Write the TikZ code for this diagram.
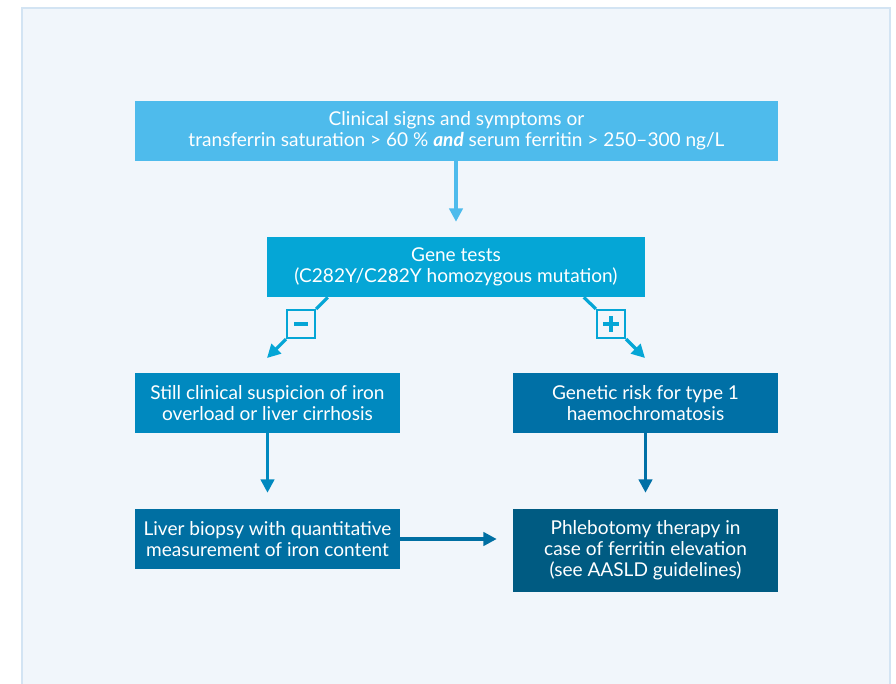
\documentclass[tikz,border=0pt]{standalone}
\usepackage{fontspec}
\setmainfont{Lato}
\usetikzlibrary{arrows.meta,calc}
\definecolor{panelbg}{HTML}{F1F6FB}
\definecolor{panelbd}{HTML}{D3E4F3}
\definecolor{cA}{HTML}{4EBBEC}
\definecolor{cB}{HTML}{05A6D6}
\definecolor{cC}{HTML}{0089BF}
\definecolor{cD}{HTML}{0070A6}
\definecolor{cE}{HTML}{006FA2}
\definecolor{cF}{HTML}{005B82}
\tikzset{
  box/.style={rectangle, inner sep=0pt, text=white, align=center,
    font=\fontsize{14.3}{15.9}\selectfont},
  arr/.style={line width=2.4pt, -{Triangle[length=10pt,width=10pt]}},
  signbox/.style={rectangle, draw=cB, line width=1.6pt, fill=panelbg,
    minimum width=21pt, minimum height=21pt, inner sep=0pt},
}
\begin{document}
\begin{tikzpicture}[x=0.75pt,y=-0.75pt]
\useasboundingbox (0,0) rectangle (896,683);
\fill[white] (0,0) rectangle (896,683);
\filldraw[fill=panelbg, draw=panelbd, line width=1.5pt] (21.5,7.5) rectangle (890,700);

\node[box, fill=cA, minimum width=482.25pt, minimum height=45pt] (top) at (456.5,131)
  {Clinical signs and symptoms or\\ transferrin saturation > 60 \% \textbf{\textit{and}} serum ferritin > 250–300 ng/L};
\node[box, fill=cB, minimum width=283.5pt, minimum height=45pt] (gene) at (456,267)
  {Gene tests\\ (C282Y/C282Y homozygous mutation)};
\node[box, fill=cC, minimum width=198.75pt, minimum height=45pt] (lmid) at (267.5,403)
  {Still clinical suspicion of iron\\ overload or liver cirrhosis};
\node[box, fill=cD, minimum width=198.75pt, minimum height=45pt] (rmid) at (645.5,403)
  {Genetic risk for type 1\\ haemochromatosis};
\node[box, fill=cE, minimum width=198.75pt, minimum height=45pt] (lbot) at (267.5,539)
  {Liver biopsy with quantitative\\ measurement of iron content};
\node[box, fill=cF, minimum width=198.75pt, minimum height=62.25pt] (rbot) at (645.5,550.5)
  {Phlebotomy therapy in\\ case of ferritin elevation\\ (see AASLD guidelines)};

% sign boxes
\node[signbox, path picture={\fill[cB] (path picture bounding box.center) ++(-5pt,-1.5pt) rectangle ++(10pt,3pt);}] (minus) at (301,324) {};
\node[signbox, path picture={\fill[cB] (path picture bounding box.center) ++(-6pt,-1.5pt) rectangle ++(12pt,3pt);
  \fill[cB] (path picture bounding box.center) ++(-1.5pt,-6pt) rectangle ++(3pt,12pt);}] (plus) at (611,324) {};

\coordinate (m0) at ($(gene.south west)+(61,0)$);
\coordinate (p0) at ($(gene.south west)+(317,0)$);
\coordinate (mt) at (267,358);
\coordinate (pt) at (645,358);

\draw[arr, cA] (top.south -| gene.north) -- ($(gene.north)+(0,-15)$);
\draw[line width=2.4pt, cB] (m0) -- (minus.north east);
\draw[arr, cB] (minus.south west) -- (mt);
\draw[line width=2.4pt, cB] (p0) -- (plus.north west);
\draw[arr, cB] (plus.south east) -- (pt);
\draw[arr, cC] (lmid.south) -- ($(lbot.north)+(0,-16)$);
\draw[arr, cD] (rmid.south) -- ($(rbot.north)+(0,-16)$);
\draw[arr, cE] (lbot.east) -- ($(rbot.west |- lbot.east)+(-16,0)$);
\end{tikzpicture}
\end{document}
